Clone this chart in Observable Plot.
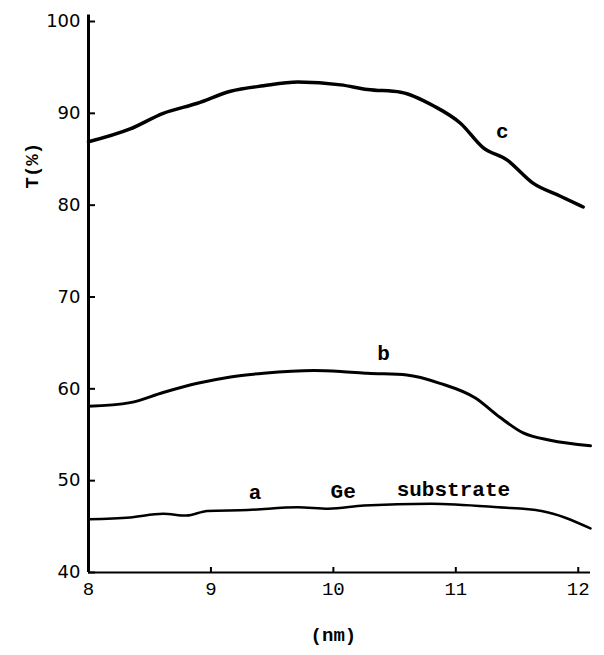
<!DOCTYPE html>
<html><head><meta charset="utf-8">
<script src="https://cdn.jsdelivr.net/npm/d3@7"></script>
<script src="https://cdn.jsdelivr.net/npm/@observablehq/plot@0.6"></script>
<style>body{margin:0;background:#fff}</style>
</head><body><div id="chart"></div>
<script>
// wavelength (µm on original, labelled nm) and transmittance T(%)
const wl_c = [8.0, 8.34, 8.61, 8.89, 9.16, 9.43, 9.71, 10.06, 10.28, 10.55, 10.82, 11.04, 11.22, 11.42, 11.63, 11.85, 12.04];
const T_c  = [86.9, 88.3, 90.0, 91.1, 92.4, 93.0, 93.4, 93.1, 92.6, 92.3, 90.8, 88.9, 86.3, 84.9, 82.4, 81.0, 79.8];
const wl_b = [8.0, 8.34, 8.61, 8.89, 9.16, 9.43, 9.84, 10.06, 10.28, 10.6, 10.87, 11.16, 11.36, 11.55, 11.77, 12.1];
const T_b  = [58.1, 58.5, 59.6, 60.6, 61.3, 61.7, 62.0, 61.9, 61.7, 61.5, 60.6, 59.0, 56.9, 55.2, 54.4, 53.8];
const wl_a = [8.0, 8.34, 8.61, 8.8, 8.97, 9.3, 9.71, 9.96, 10.25, 10.8, 11.35, 11.7, 12.1];
const T_a  = [45.8, 46.0, 46.4, 46.2, 46.7, 46.8, 47.1, 46.95, 47.3, 47.5, 47.1, 46.7, 44.8];

const x_ticks = [8, 9, 10, 11, 12];
const y_ticks = [40, 50, 60, 70, 80, 90, 100];

const label_text = ["c", "b", "a", "Ge", "substrate"];
const label_x    = [11.38, 10.41, 9.36, 10.08, 10.98];
const label_y    = [88.1, 63.9, 48.7, 48.9, 49.1];

const mono = "'Liberation Mono', 'DejaVu Sans Mono', monospace";
const sans = "'DejaVu Sans', sans-serif";

const chart = Plot.plot({
  width: 604, height: 655,
  marginLeft: 88, marginRight: 14, marginTop: 21, marginBottom: 83,
  x: {domain: [8, 12.1], label: null},
  y: {domain: [40, 100], label: null},
  style: {background: "white", color: "black"},
  marks: [
    Plot.ruleX([8], {y1: 40, y2: 100.7, strokeWidth: 3}),
    Plot.ruleY([40], {x1: 8, x2: 12.1, strokeWidth: 2}),
    Plot.axisY({ticks: y_ticks, tickSize: 0, tickPadding: 8, fontSize: 18, fontFamily: sans, tickFormat: d => String(d), label: null}),
    Plot.axisY({ticks: y_ticks, tickSize: -7, tickFormat: () => "", strokeWidth: 2, label: null}),
    Plot.axisX({ticks: x_ticks, tickSize: 0, tickPadding: 9, fontSize: 19, fontFamily: mono, tickFormat: d => String(d), label: null}),
    Plot.axisX({ticks: x_ticks, tickSize: -5, tickFormat: () => "", strokeWidth: 2, label: null}),
    Plot.line(T_c, {x: wl_c, y: T_c, curve: "monotone-x", strokeWidth: 3.5}),
    Plot.line(T_b, {x: wl_b, y: T_b, curve: "monotone-x", strokeWidth: 3}),
    Plot.line(T_a, {x: wl_a, y: T_a, curve: "monotone-x", strokeWidth: 2.5}),
    Plot.text(label_text, {x: label_x, y: label_y, text: d => d, fontSize: 21, fontFamily: mono, fontWeight: "bold"}),
    Plot.text(["T(%)"], {x: 7.54, y: 84.3, text: d => d, rotate: -90, fontSize: 19, fontFamily: mono, fontWeight: "bold"}),
    Plot.text(["(nm)"], {x: 10.0, y: 33.2, text: d => d, fontSize: 19, fontFamily: mono, fontWeight: "bold"})
  ]
});
document.getElementById("chart").append(chart);
</script>
</body></html>
